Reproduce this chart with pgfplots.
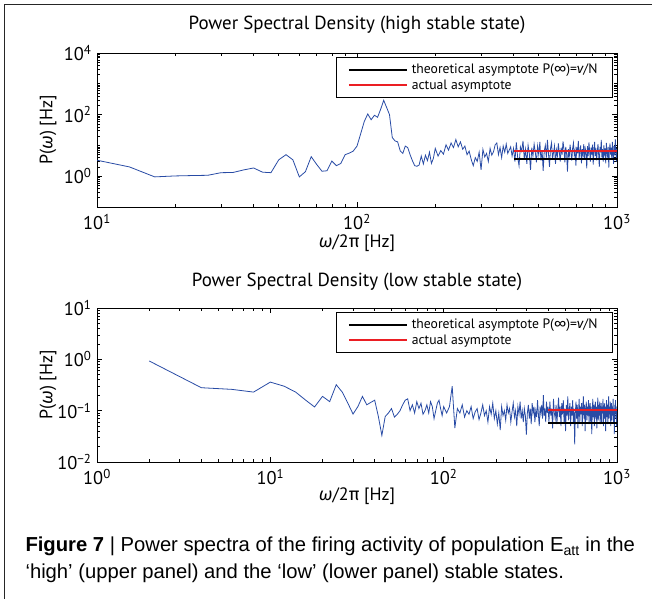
\documentclass[border=0pt]{standalone}
\usepackage{fontspec}
\usepackage{pgfplots}
\pgfplotsset{compat=1.18}
\setmainfont{PT Sans}
\newfontfamily\gk{Fira Sans}
\newfontfamily\capfont{Liberation Sans}
\definecolor{psdblue}{RGB}{40,75,165}
\definecolor{asred}{RGB}{235,30,35}

\pgfplotsset{legend image code/.code={\draw[#1] (0bp,0bp) -- (58bp,0bp);}}
\pgfplotsset{
  every axis/.append style={
    scale only axis, width=520bp, height=154bp,
    axis line style={line width=0.9bp},
    tick align=inside, tickpos=both,
    major tick length=5bp, minor tick length=3bp,
    tick style={black, line width=0.6bp},
    tick label style={font=\fontsize{18.5}{21}\selectfont},
    xticklabel style={yshift=-4bp},
    yticklabel style={xshift=-2bp},
    label style={font=\fontsize{18}{21}\selectfont},
    title style={font=\fontsize{19}{22}\selectfont, at={(0.5,1)}, anchor=base},
    ylabel style={at={(axis description cs:-0.094,0.5)}, anchor=center},
    xlabel style={at={(axis description cs:0.5,0)}, anchor=base},
    legend cell align=left,
    legend style={at={(1,1)}, anchor=north east, xshift=-4bp, yshift=-4bp,
      draw=black, line width=1bp, font=\fontsize{13.7}{16}\selectfont,
      inner xsep=11bp, inner ysep=4.2bp, row sep=0bp,
      nodes={inner xsep=4bp, inner ysep=2.3bp}},
  },
}

\begin{document}
\begin{tikzpicture}
\useasboundingbox (0,0) rectangle (652bp,599bp);
\draw[line width=1.4bp, black!85] (4.5bp,0bp) -- (4.5bp,594.5bp) -- (652bp,594.5bp);

% upper panel: high stable state
\begin{loglogaxis}[at={(97bp,392bp)}, anchor=south west,
  title={Power Spectral Density (high stable state)},
  title style={yshift=18bp},
  xlabel style={yshift=-41bp},
  ylabel={P({\gk\itshape ω}) [Hz]},
  xlabel={{\gk\itshape ω}/2{\gk π} [Hz]},
  xmin=10, xmax=1000, ymin=0.1, ymax=10000,
  xtick={10,100,1000},
  xticklabels={10\textsuperscript{1},10\textsuperscript{2},10\textsuperscript{3}},
  minor xtick={20,30,40,50,60,70,80,90,200,300,400,500,600,700,800,900},
  ytick={1,100,10000},
  yticklabels={10\textsuperscript{0},10\textsuperscript{2},10\textsuperscript{4}},
  minor ytick={0.2,0.3,0.4,0.5,0.6,0.7,0.8,0.9,2,3,4,5,6,7,8,9,10,20,30,40,50,60,70,80,90,200,300,400,500,600,700,800,900,1000,2000,3000,4000,5000,6000,7000,8000,9000},
]
\addplot[psdblue, line width=0.8bp, mark=none, forget plot] coordinates {
(10,3.3) (13.33,2.0) (16.67,0.95) (20,1.02) (23.33,1.05) (26.67,1.07) (30,1.3) (33.33,1.32)
(36.67,1.6) (40,1.85) (43.33,1.35) (46.67,1.3) (50,3.4) (53.33,5.0) (56.67,3.4) (60,0.95)
(63.33,1.4) (66.67,4.3) (70,2.4) (73.33,1.45) (76.67,1.5) (80,3.1) (83.33,2.2) (86.67,2.6)
(90,5.0) (93.33,5.6) (96.67,6.5) (100,9.5) (103.33,24) (106.67,60) (110,105) (113.33,68)
(116.67,95) (120,82) (123.33,150) (126.67,290) (130,170) (133.33,100) (136.67,18) (140,14)
(143.33,13) (146.67,6.6) (150,5.5) (153.33,9.5) (156.67,8.5) (160,5) (163.33,3.2) (166.67,2.2)
(170,2.1) (173.33,2.3) (176.67,4.5) (180,2.5) (183.33,4.8) (186.67,3.2) (190,6.0) (193.33,2.6)
(196.67,3.8) (200,8.0) (205,4.5) (210,6.8) (215,5.2) (220,10.5) (225,7.0) (230,12.0)
(235,8.5) (240,15.5) (245,9.0) (250,13.0) (255,7.5) (260,9.5) (265,5.0) (270,6.5)
(275,3.5) (280,2.2) (285,4.0) (290,3.0) (295,6.0) (300,1.6) (305,7.4) (310,4.2)
(315,5.5) (320,3.0) (325,8.0) (330,4.8) (335,6.2) (340,10.5) (345,12.0) (350,5.0)
(355,8.5) (360,4.0) (365,9.5) (370,6.0) (375,11.0) (380,5.5) (385,7.0) (390,9.0)
(395,4.5) (400,8.0) (405,3.0) (410,12.5) (415,4.0) (420,2.2) (425,9.0) (430,6.5)
(435,14.0) (440,3.5) (445,7.5) (450,2.5) (455,10.0) (460,5.5) (465,1.6) (470,8.5)
(475,4.5) (480,11.0) (485,6.0) (490,2.8) (495,9.5) (500,5.0) (505,13.0) (510,3.2)
(515,7.0) (520,1.5) (525,6.5) (530,10.0) (535,4.0) (540,15.0) (545,5.5) (550,2.0)
(555,8.0) (560,12.0) (565,3.5) (570,6.0) (575,9.5) (580,2.5) (585,7.0) (590,4.5)
(595,11.5) (600,6.0) (605,3.0) (610,8.5) (615,5.0) (620,13.5) (625,7.5) (630,2.8)
(635,9.0) (640,5.5) (645,1.4) (650,7.5) (655,4.0) (660,10.5) (665,6.0) (670,3.2)
(675,8.0) (680,12.0) (685,4.8) (690,7.0) (695,2.2) (700,9.0) (705,5.5) (710,14.0)
(715,3.8) (720,6.5) (725,10.0) (730,2.6) (735,7.5) (740,5.0) (745,11.0) (750,3.5)
(755,8.0) (760,6.0) (765,1.8) (770,9.5) (775,4.5) (780,12.5) (785,6.5) (790,3.0)
(795,8.5) (800,5.0) (805,10.5) (810,2.4) (815,7.0) (820,13.0) (825,4.5) (830,8.0)
(835,3.3) (840,6.5) (845,11.0) (850,5.0) (855,2.0) (860,9.0) (865,6.0) (870,15.0)
(875,4.0) (880,7.5) (885,3.0) (890,10.0) (895,5.5) (900,8.0) (905,2.6) (910,12.0)
(915,6.0) (920,4.0) (925,9.0) (930,1.9) (935,7.0) (940,11.5) (945,5.0) (950,8.5)
(955,3.5) (960,13.0) (965,6.0) (970,2.5) (975,9.5) (980,4.8) (985,16.0) (990,7.0)
(995,3.0) (1000,8.0)
};
\addplot[black, line width=2bp, mark=none] coordinates {(400,3.5) (1000,3.5)};
\addlegendentry{theoretical asymptote P({\gk ∞})={\gk\itshape ν}/N}
\addplot[asred, line width=2bp, mark=none] coordinates {(400,6.5) (1000,6.5)};
\addlegendentry{actual asymptote}
\end{loglogaxis}

% lower panel: low stable state
\begin{loglogaxis}[at={(97bp,137bp)}, anchor=south west,
  title={Power Spectral Density (low stable state)},
  title style={yshift=16bp},
  xlabel style={yshift=-38bp},
  ylabel={P({\gk\itshape ω}) [Hz]},
  xlabel={{\gk\itshape ω}/2{\gk π} [Hz]},
  xmin=1, xmax=1000, ymin=0.01, ymax=10,
  xtick={1,10,100,1000},
  xticklabels={10\textsuperscript{0},10\textsuperscript{1},10\textsuperscript{2},10\textsuperscript{3}},
  minor xtick={2,3,4,5,6,7,8,9,20,30,40,50,60,70,80,90,200,300,400,500,600,700,800,900},
  ytick={0.01,0.1,1,10},
  yticklabels={10\textsuperscript{−2},10\textsuperscript{−1},10\textsuperscript{0},10\textsuperscript{1}},
  minor ytick={0.02,0.03,0.04,0.05,0.06,0.07,0.08,0.09,0.2,0.3,0.4,0.5,0.6,0.7,0.8,0.9,2,3,4,5,6,7,8,9},
]
\addplot[psdblue, line width=0.8bp, mark=none, forget plot] coordinates {
(2,0.93) (4,0.28) (6,0.26) (8,0.23) (10,0.36) (12,0.30) (14,0.23) (16,0.16)
(18,0.118) (20,0.19) (22,0.15) (24,0.32) (26,0.23) (28,0.14) (30,0.086) (32,0.12)
(34,0.19) (36,0.13) (38,0.145) (40,0.16) (42,0.077) (44,0.033) (46,0.077) (48,0.09)
(50,0.11) (52,0.075) (54,0.085) (56,0.10) (58,0.13) (60,0.16) (62,0.17) (64,0.10)
(66,0.13) (68,0.09) (70,0.15) (72,0.11) (74,0.14) (76,0.085) (78,0.10) (80,0.13)
(82,0.09) (84,0.15) (86,0.12) (88,0.07) (90,0.10) (92,0.14) (94,0.16) (96,0.11)
(98,0.08) (100,0.12) (104,0.09) (108,0.12) (112,0.30) (116,0.046) (120,0.11) (124,0.09)
(128,0.13) (132,0.075) (136,0.10) (140,0.085) (144,0.12) (148,0.07) (152,0.095) (156,0.11)
(160,0.067) (164,0.09) (168,0.13) (172,0.08) (176,0.10) (180,0.06) (184,0.12) (188,0.085)
(192,0.14) (196,0.07) (200,0.10) (204,0.055) (208,0.09) (212,0.042) (216,0.12) (220,0.08)
(224,0.10) (228,0.065) (232,0.13) (236,0.09) (240,0.11) (244,0.06) (248,0.095) (252,0.14)
(256,0.075) (260,0.10) (264,0.05) (268,0.12) (272,0.085) (276,0.15) (280,0.07) (284,0.10)
(288,0.06) (292,0.11) (296,0.08) (300,0.034) (304,0.09) (308,0.13) (312,0.07) (316,0.11)
(320,0.055) (324,0.14) (328,0.09) (332,0.12) (336,0.06) (340,0.10) (344,0.075) (348,0.16)
(352,0.085) (356,0.05) (360,0.12) (364,0.09) (368,0.13) (372,0.07) (376,0.20) (380,0.08)
(384,0.11) (388,0.06) (392,0.15) (396,0.09) (400,0.12) (405,0.06) (410,0.15) (415,0.08)
(420,0.11) (425,0.045) (430,0.17) (435,0.09) (440,0.07) (445,0.13) (450,0.055) (455,0.10)
(460,0.18) (465,0.075) (470,0.12) (475,0.05) (480,0.14) (485,0.085) (490,0.16) (495,0.06)
(500,0.11) (505,0.04) (510,0.13) (515,0.08) (520,0.19) (525,0.065) (530,0.10) (535,0.14)
(540,0.05) (545,0.12) (550,0.08) (555,0.16) (560,0.06) (565,0.11) (570,0.022) (575,0.09)
(580,0.15) (585,0.07) (590,0.13) (595,0.045) (600,0.10) (605,0.17) (610,0.06) (615,0.12)
(620,0.085) (625,0.14) (630,0.05) (635,0.11) (640,0.19) (645,0.07) (650,0.13) (655,0.04)
(660,0.10) (665,0.15) (670,0.065) (675,0.12) (680,0.08) (685,0.16) (690,0.055) (695,0.11)
(700,0.14) (705,0.06) (710,0.12) (715,0.035) (720,0.09) (725,0.17) (730,0.075) (735,0.13)
(740,0.05) (745,0.11) (750,0.15) (755,0.07) (760,0.12) (765,0.045) (770,0.10) (775,0.18)
(780,0.065) (785,0.13) (790,0.08) (795,0.15) (800,0.055) (805,0.11) (810,0.14) (815,0.06)
(820,0.12) (825,0.09) (830,0.17) (835,0.05) (840,0.11) (845,0.14) (850,0.07) (855,0.12)
(860,0.04) (865,0.10) (870,0.16) (875,0.075) (880,0.13) (885,0.055) (890,0.11) (895,0.19)
(900,0.07) (905,0.12) (910,0.085) (915,0.15) (920,0.05) (925,0.10) (930,0.14) (935,0.065)
(940,0.12) (945,0.08) (950,0.17) (955,0.06) (960,0.11) (965,0.035) (970,0.13) (975,0.09)
(980,0.16) (985,0.07) (990,0.12) (995,0.05) (1000,0.10)
};
\addplot[black, line width=2bp, mark=none] coordinates {(400,0.057) (1000,0.057)};
\addlegendentry{theoretical asymptote P({\gk ∞})={\gk\itshape ν}/N}
\addplot[asred, line width=2bp, mark=none] coordinates {(400,0.105) (1000,0.105)};
\addlegendentry{actual asymptote}
\end{loglogaxis}

\node[anchor=base west, font=\capfont\fontsize{20.3}{24}\selectfont] at (22bp,47bp)
  {\textbf{Figure 7} | Power spectra of the firing activity of population E\textsubscript{att} in the};
\node[anchor=base west, font=\capfont\fontsize{20.3}{24}\selectfont] at (22bp,21bp)
  {‘high’ (upper panel) and the ‘low’ (lower panel) stable states.};
\end{tikzpicture}
\end{document}
